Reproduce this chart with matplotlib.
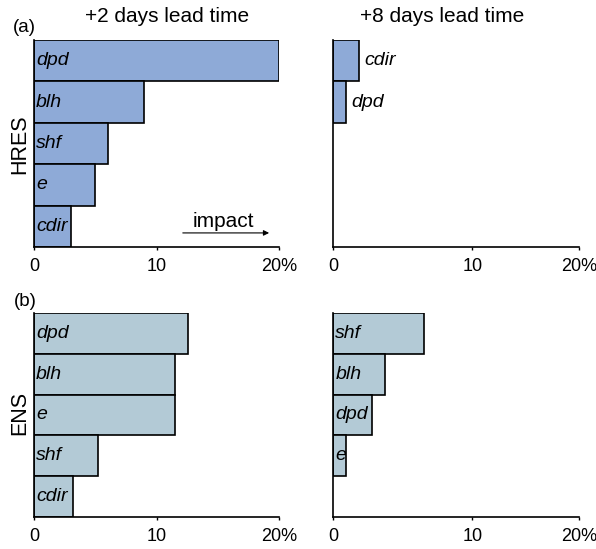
import matplotlib
matplotlib.use("Agg")
import matplotlib.pyplot as plt

plt.rcParams['font.family'] = ['Liberation Sans', 'DejaVu Sans']

# Data (percent impact), listed top to bottom
hres_2d_vars = ['dpd', 'blh', 'shf', 'e', 'cdir']
hres_2d_vals = [20.0, 9.0, 6.0, 5.0, 3.0]
hres_8d_vars = ['cdir', 'dpd']
hres_8d_vals = [2.1, 1.05]
ens_2d_vars = ['dpd', 'blh', 'e', 'shf', 'cdir']
ens_2d_vals = [12.6, 11.5, 11.55, 5.2, 3.15]
ens_8d_vars = ['shf', 'blh', 'dpd', 'e']
ens_8d_vals = [7.37, 4.2, 3.15, 1.05]

titles = ['+2 days lead time', '+8 days lead time']
row_labels = ['HRES', 'ENS']
panel_labels = ['(a)', '(b)']

hres_color = '#8eaad7'
ens_color = '#b3cad6'

W, H = 596, 549
fig = plt.figure(figsize=(W / 100, H / 100), dpi=100)

def axes_px(x0, x1, ytop, ybot):
    return fig.add_axes([x0 / W, (H - ybot) / H, (x1 - x0) / W, (ybot - ytop) / H])

ax_tl = axes_px(34, 279, 40, 247)
ax_tr = axes_px(333.3, 579.3, 40, 247)
ax_bl = axes_px(34, 279, 312.7, 517.3)
ax_br = axes_px(333.3, 579.3, 312.7, 517.3)

def draw(ax, names, vals, color, inside=True, right=False):
    ypos = list(range(len(names)))
    ax.barh(ypos, vals, height=1.0, color=color, edgecolor='black', linewidth=1.2)
    for y, n, v in zip(ypos, names, vals):
        if inside:
            ax.annotate(n, xy=(0, y), xytext=(1.5, 0), textcoords='offset points',
                        ha='left', va='center', fontsize=14, style='italic')
        else:
            ax.annotate(n, xy=(v, y), xytext=(4, 0), textcoords='offset points',
                        ha='left', va='center', fontsize=14, style='italic')
    ax.set_ylim(4.5, -0.5)
    ax.set_xlim(0, 20)
    for s in ['top', 'right']:
        ax.spines[s].set_visible(False)
    for s in ['left', 'bottom']:
        ax.spines[s].set_linewidth(1.2)
    ax.set_yticks([])
    if right:
        ax.set_xticks([0, 11.3, 20])
    else:
        ax.set_xticks([0, 10, 20])
    ax.set_xticklabels(['0', '10', '20%'])
    ax.tick_params(axis='x', direction='out', length=2.5, width=1, pad=5.5, labelsize=13)

draw(ax_tl, hres_2d_vars, hres_2d_vals, hres_color)
draw(ax_tr, hres_8d_vars, hres_8d_vals, hres_color, inside=False, right=True)
draw(ax_bl, ens_2d_vars, ens_2d_vals, ens_color)
draw(ax_br, ens_8d_vars, ens_8d_vals, ens_color, right=True)

# impact arrow
ax_tl.annotate('', xy=(0.971, 0.068), xytext=(0.596, 0.068), xycoords='axes fraction',
               arrowprops=dict(arrowstyle='-|>', lw=0.8, color='black', mutation_scale=8))
ax_tl.text(0.771, 0.125, 'impact', transform=ax_tl.transAxes, ha='center', va='center', fontsize=15)

# titles
fig.text(166.7 / W, 1 - 17 / H, titles[0], ha='center', va='center', fontsize=15)
fig.text(442 / W, 1 - 17 / H, titles[1], ha='center', va='center', fontsize=15)

# panel labels
fig.text(24 / W, 1 - 27.5 / H, panel_labels[0], ha='center', va='center', fontsize=13.5)
fig.text(25 / W, 1 - 301.5 / H, panel_labels[1], ha='center', va='center', fontsize=13.5)

# row labels
fig.text(20 / W, 1 - 144 / H, row_labels[0], ha='center', va='center', rotation=90, fontsize=15.5)
fig.text(20 / W, 1 - 413 / H, row_labels[1], ha='center', va='center', rotation=90, fontsize=15.5)

fig.savefig('out.png', dpi=100)
